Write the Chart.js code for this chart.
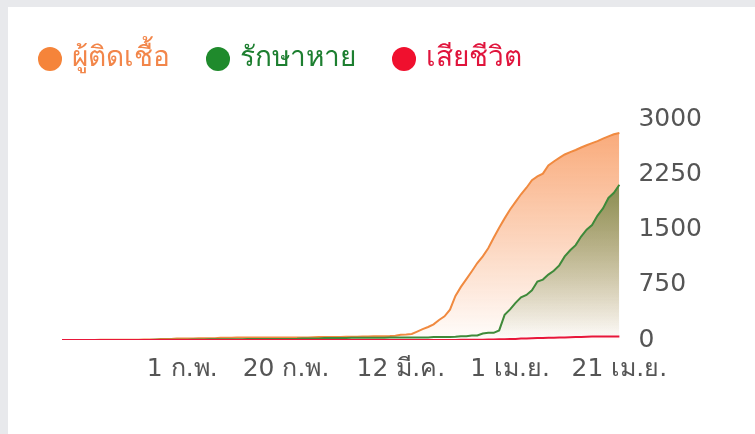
<!DOCTYPE html>
<html>
<head>
<meta charset="utf-8">
<script src="https://cdn.jsdelivr.net/npm/chart.js@4.4.1/dist/chart.umd.min.js"></script>
<style>
  html, body { margin: 0; padding: 0; }
  body {
    width: 755px; height: 434px; overflow: hidden;
    background:
      linear-gradient(to right, #e8e9ec 8px, transparent 8px),
      linear-gradient(to bottom, #e8e9ec 7px, #ffffff 7px);
  }
  #wrap { position: absolute; left: 0; top: 0; width: 755px; height: 434px; }
</style>
</head>
<body>
<div id="wrap"><canvas id="grafico" width="755" height="434"></canvas></div>
<script>
// ข้อมูลรายวัน 10 ม.ค. - 21 เม.ย.
const dataInicio = new Date(2020, 0, 10);
const mesesTH = ['ม.ค.', 'ก.พ.', 'มี.ค.', 'เม.ย.'];

const rotulosEixoX = ['1 ก.พ.', '20 ก.พ.', '12 มี.ค.', '1 เม.ย.', '21 เม.ย.'];
const ticksEixoY = [0, 750, 1500, 2250, 3000];

const seriesNomes = ['ผู้ติดเชื้อ', 'รักษาหาย', 'เสียชีวิต'];

const infectados = [
  0, 0,                                              // 10-11 ม.ค.
  0, 1, 1, 1, 1, 2, 2, 2, 2, 2,                      // 12-21 ม.ค.
  4, 4, 5, 7, 8, 8, 14, 14, 14, 19,                  // 22-31 ม.ค.
  19, 19, 19, 25, 25, 25, 25, 32, 32, 32,            // 1-10 ก.พ.
  33, 33, 33, 33, 34, 34, 35, 35, 35, 35,            // 11-20 ก.พ.
  35, 35, 35, 35, 37, 40, 40, 41, 42,                // 21-29 ก.พ.
  42, 43, 43, 43, 47, 48, 50, 50, 50, 53,            // 1-10 มี.ค.
  59, 70, 75, 82, 114, 147, 177, 212, 272, 322,      // 11-20 มี.ค.
  411, 599, 721, 827, 934, 1045, 1136, 1245, 1388, 1524, 1651,  // 21-31 มี.ค.
  1771, 1875, 1978, 2067, 2169, 2220, 2258, 2369, 2423, 2473,   // 1-10 เม.ย.
  2518, 2551, 2579, 2613, 2643, 2672, 2700, 2733, 2765, 2792, 2811 // 11-21 เม.ย.
];

const recuperados = [
  0, 0,
  0, 0, 0, 0, 0, 0, 0, 0, 0, 0,
  0, 0, 0, 0, 0, 2, 2, 5, 5, 5,
  5, 5, 7, 8, 8, 9, 10, 10, 10, 10,
  10, 10, 12, 12, 14, 14, 14, 15, 15, 15,
  15, 17, 21, 21, 22, 22, 28, 28, 28,
  28, 28, 31, 31, 31, 31, 31, 31, 31, 33,
  33, 34, 35, 35, 35, 35, 35, 41, 41, 42,
  42, 44, 52, 52, 61, 62, 88, 97, 97, 130, 342,
  416, 505, 580, 612, 674, 793, 820, 888, 940, 1013,
  1135, 1218, 1288, 1405, 1497, 1560, 1689, 1787, 1928, 1999, 2108
];

const obitos = [
  0, 0,
  0, 0, 0, 0, 0, 0, 0, 0, 0, 0,
  0, 0, 0, 0, 0, 0, 0, 0, 0, 0,
  0, 0, 0, 0, 0, 0, 0, 0, 0, 0,
  0, 0, 0, 0, 0, 0, 0, 0, 0, 0,
  0, 0, 0, 0, 0, 0, 0, 0, 0,
  1, 1, 1, 1, 1, 1, 1, 1, 1, 1,
  1, 1, 1, 1, 1, 1, 1, 1, 1, 1,
  1, 1, 4, 4, 4, 5, 5, 6, 7, 9, 10,
  12, 15, 19, 20, 23, 26, 27, 30, 32, 33,
  35, 38, 40, 41, 43, 46, 46, 47, 47, 47, 47
];

const cores = ['#f5843a', '#1f8a2c', '#f0102e'];
const coresTexto = ['#f2864a', '#1d7f30', '#e0143c'];
const coresLinha = ['#f08a40', '#3f8a3a', '#e8173a'];

// rótulos diários
const rotulos = [];
for (let i = 0; i < infectados.length; i++) {
  const d = new Date(dataInicio.getTime() + i * 86400000);
  rotulos.push(d.getDate() + ' ' + mesesTH[d.getMonth()]);
}

function gradiente(ctx, area, topo, base) {
  const g = ctx.createLinearGradient(0, area.top, 0, area.bottom);
  g.addColorStop(0, topo);
  g.addColorStop(1, base);
  return g;
}

const fonte = "'DejaVu Sans', 'Noto Sans', sans-serif";

new Chart(document.getElementById('grafico'), {
  type: 'line',
  data: {
    labels: rotulos,
    datasets: [
      {
        label: seriesNomes[0],
        data: infectados,
        borderColor: coresLinha[0],
        backgroundColor: (c) => {
          const a = c.chart.chartArea;
          if (!a) return 'rgba(247,140,75,0.5)';
          return gradiente(c.chart.ctx, a, 'rgba(247,140,75,0.78)', 'rgba(247,140,75,0.02)');
        },
        fill: 'origin',
        order: 3
      },
      {
        label: seriesNomes[1],
        data: recuperados,
        borderColor: coresLinha[1],
        backgroundColor: (c) => {
          const a = c.chart.chartArea;
          if (!a) return 'rgba(40,100,20,0.4)';
          return gradiente(c.chart.ctx, a, 'rgba(45,100,20,0.78)', 'rgba(45,100,20,0)');
        },
        fill: 'origin',
        order: 2
      },
      {
        label: seriesNomes[2],
        data: obitos,
        borderColor: coresLinha[2],
        backgroundColor: 'rgba(0,0,0,0)',
        fill: false,
        order: 1
      }
    ]
  },
  options: {
    responsive: false,
    devicePixelRatio: 1,
    animation: false,
    layout: { padding: { top: 5, right: 34, bottom: 36, left: 2 } },
    elements: {
      point: { radius: 0 },
      line: { borderWidth: 2, tension: 0 }
    },
    plugins: {
      tooltip: { enabled: false },
      legend: {
        position: 'top',
        align: 'start',
        labels: {
          usePointStyle: true,
          pointStyle: 'circle',
          boxWidth: 16,
          boxHeight: 17,
          padding: 40,
          font: { size: 28, family: fonte },
          generateLabels: (chart) => chart.data.datasets.map((ds, i) => ({
            text: ds.label,
            fillStyle: cores[i],
            strokeStyle: cores[i],
            lineWidth: 0,
            fontColor: coresTexto[i],
            pointStyle: 'circle',
            hidden: false,
            datasetIndex: i
          }))
        }
      }
    },
    scales: {
      x: {
        grid: { display: false, drawTicks: false },
        border: { display: false },
        ticks: {
          autoSkip: false,
          maxRotation: 0,
          color: '#555555',
          padding: 14,
          font: { size: 25, family: fonte },
          callback: function (v) {
            const l = this.getLabelForValue(v);
            return rotulosEixoX.includes(l) ? l : null;
          }
        }
      },
      y: {
        position: 'right',
        min: 0,
        max: 3000,
        afterBuildTicks: (s) => { s.ticks = ticksEixoY.map(v => ({ value: v })); },
        grid: { display: false, drawTicks: false },
        border: { display: false },
        ticks: {
          color: '#555555',
          padding: 19,
          font: { size: 25, family: fonte },
          callback: (v) => String(v)
        }
      },
      esquerda: {
        type: 'linear',
        position: 'left',
        grid: { display: false, drawTicks: false },
        border: { display: false },
        ticks: { display: false },
        afterFit: (s) => { s.width = 60; }
      },
      topo: {
        type: 'linear',
        axis: 'x',
        position: 'top',
        grid: { display: false, drawTicks: false },
        border: { display: false },
        ticks: { display: false },
        afterFit: (s) => { s.height = 36; }
      }
    }
  }
});
</script>
</body>
</html>
